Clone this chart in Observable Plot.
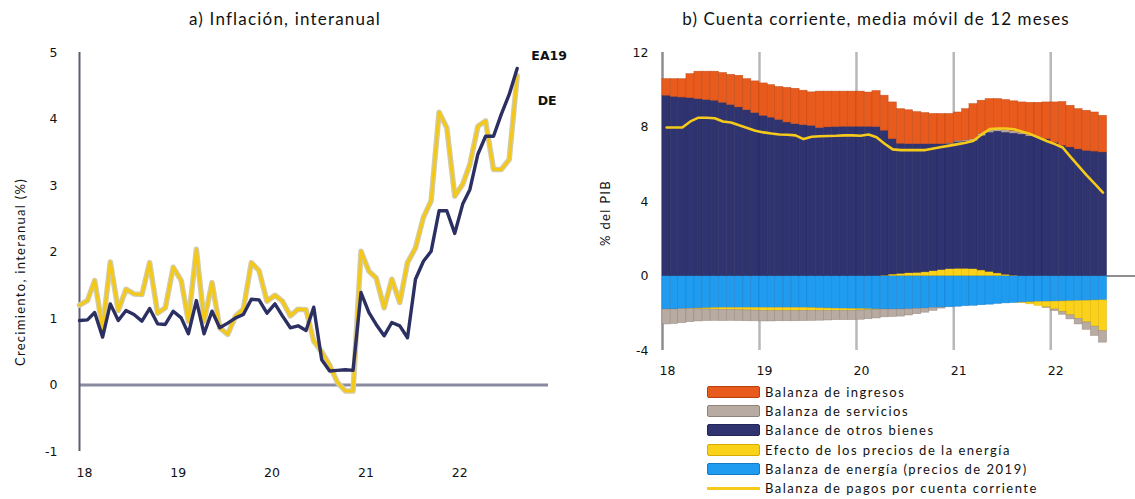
<!DOCTYPE html>
<html><head><meta charset="utf-8">
<script src="https://cdn.jsdelivr.net/npm/d3@7"></script>
<script src="https://cdn.jsdelivr.net/npm/@observablehq/plot@0.6"></script>
<style>
body{margin:0;background:#fff;}
#wrap{position:relative;width:1135px;height:499px;overflow:hidden;font-family:Lato,"Open Sans",sans-serif;color:#111;}
.abs{position:absolute;}
.title{font-size:17px;white-space:nowrap;transform:translateX(-50%);}
.ylab{font-size:13px;white-space:nowrap;transform:translate(-50%,-50%) rotate(-90deg);letter-spacing:1.3px;}
.sw{position:absolute;left:707px;width:53px;height:12px;border-radius:2px;box-sizing:border-box;border:1px solid;}
.lt{position:absolute;left:765px;font-size:13px;line-height:16px;letter-spacing:1.5px;white-space:nowrap;}
#left,#right{position:absolute;top:30px;}
#left{left:0;}
#right{left:590px;}
</style></head><body>
<div id="wrap">
  <div class="abs title" style="left:285px;top:8px;letter-spacing:1.2px;">a) Inflación, interanual</div>
  <div class="abs title" style="left:876px;top:8px;letter-spacing:1.1px;">b) Cuenta corriente, media móvil de 12 meses</div>
  <div class="abs ylab" style="left:20px;top:272px;">Crecimiento, interanual (%)</div>
  <div class="abs ylab" style="left:605px;top:213px;">% del PIB</div>
  <div id="left"></div>
  <div id="right"></div>
  <div id="legend"></div>
</div>
<script>
// ---------- Panel a) data: monthly, Jan 2018 – Sep 2022 ----------
const inflStart = new Date(Date.UTC(2018, 0, 1));
const inflMonths = d3.utcMonths(inflStart, new Date(Date.UTC(2022, 9, 1)));
const ea19 = [0.97,0.98,1.09,0.72,1.22,0.97,1.12,1.06,0.96,1.15,0.92,0.91,
              1.11,1.01,0.77,1.27,0.77,1.11,0.86,0.93,1.01,1.06,1.29,1.28,
              1.08,1.22,1.04,0.86,0.89,0.82,1.17,0.38,0.21,0.22,0.23,0.22,
              1.39,1.09,0.91,0.74,0.94,0.89,0.71,1.59,1.86,2.01,2.62,2.62,
              2.28,2.72,2.94,3.47,3.74,3.74,4.07,4.37,4.76];
const de = [1.20,1.27,1.57,0.85,1.85,1.12,1.44,1.37,1.36,1.84,1.08,1.16,
            1.77,1.57,0.96,2.04,0.96,1.54,0.86,0.76,1.04,1.14,1.84,1.72,
            1.26,1.35,1.26,1.04,1.14,1.13,0.66,0.50,0.30,0.04,-0.09,-0.09,
            2.01,1.71,1.61,1.16,1.59,1.24,1.84,2.06,2.52,2.77,4.10,3.87,
            2.84,3.02,3.32,3.89,3.97,3.24,3.24,3.39,4.65];
const inflYTicks = [-1, 0, 1, 2, 3, 4, 5];
const yearTicks = [2018, 2019, 2020, 2021, 2022];
const yearLabels = ["18", "19", "20", "21", "22"];
const seriesLabelsA = ["EA19", "DE"];

// ---------- Panel b) data: monthly, Jan 2018 – Jul 2022 ----------
const caStart = new Date(Date.UTC(2018, 0, 1));
const caMonths = d3.utcMonths(caStart, new Date(Date.UTC(2022, 7, 1)));
const ingresos = [0.89,0.95,0.99,1.29,1.47,1.52,1.56,1.60,1.62,1.70,1.67,1.70,
                  1.74,1.75,1.77,1.86,1.90,1.85,1.80,1.96,1.92,1.90,1.89,1.89,
                  1.89,1.84,1.93,1.88,1.97,1.86,1.82,1.72,1.67,1.62,1.62,1.58,
                  1.53,1.68,1.89,1.78,1.68,1.61,1.62,1.61,1.62,1.73,1.82,1.97,
                  2.17,2.34,2.24,2.16,2.15,2.10,1.97];
const servicios = [-0.80,-0.78,-0.75,-0.70,-0.65,-0.62,-0.60,-0.60,-0.58,-0.58,-0.58,-0.57,
                   -0.57,-0.56,-0.55,-0.55,-0.55,-0.55,-0.54,-0.53,-0.52,-0.50,-0.50,-0.50,
                   -0.50,-0.48,-0.45,-0.42,-0.40,-0.38,-0.33,-0.28,-0.22,-0.15,-0.05,0.02,
                   0.05,0.06,0.08,0.10,0.12,0.13,0.13,0.12,0.10,0.07,0.03,-0.02,
                   -0.08,-0.14,-0.22,-0.30,-0.40,-0.50,-0.62];
const otrosBienes = [9.68,9.62,9.58,9.55,9.50,9.45,9.41,9.30,9.18,9.05,8.90,8.75,
                     8.60,8.50,8.38,8.24,8.15,8.10,8.06,7.94,7.98,8.00,8.01,8.01,
                     8.01,8.01,8.00,7.78,7.27,6.98,6.93,6.91,6.88,6.82,6.76,6.73,
                     6.81,6.83,6.89,7.23,7.48,7.62,7.63,7.63,7.60,7.50,7.45,7.35,
                     7.15,7.00,6.90,6.80,6.72,6.68,6.63];
const efectoPrecios = [0,0,0,-0.02,-0.04,-0.06,-0.08,-0.10,-0.11,-0.12,-0.13,-0.14,
                       -0.15,-0.16,-0.16,-0.16,-0.16,-0.15,-0.14,-0.13,-0.12,-0.11,-0.10,-0.09,
                       -0.07,-0.05,-0.03,0.02,0.08,0.12,0.15,0.17,0.20,0.26,0.32,0.37,
                       0.39,0.39,0.37,0.30,0.22,0.14,0.07,0.02,-0.03,-0.10,-0.20,-0.30,
                       -0.42,-0.57,-0.75,-0.95,-1.15,-1.40,-1.65];
const energia2019 = [-1.80,-1.80,-1.78,-1.76,-1.75,-1.74,-1.73,-1.72,-1.72,-1.72,-1.72,-1.72,
                     -1.72,-1.72,-1.72,-1.72,-1.72,-1.72,-1.73,-1.74,-1.75,-1.76,-1.77,-1.78,
                     -1.78,-1.79,-1.80,-1.80,-1.80,-1.80,-1.79,-1.77,-1.75,-1.72,-1.70,-1.68,
                     -1.65,-1.62,-1.60,-1.57,-1.54,-1.50,-1.47,-1.45,-1.43,-1.42,-1.40,-1.39,
                     -1.38,-1.37,-1.36,-1.35,-1.34,-1.32,-1.31];
const cuentaCorriente = [7.97,7.97,7.97,8.30,8.50,8.50,8.47,8.30,8.24,8.10,7.95,7.80,
                         7.71,7.65,7.60,7.58,7.55,7.35,7.48,7.50,7.52,7.53,7.55,7.55,
                         7.53,7.60,7.45,7.10,6.80,6.76,6.76,6.76,6.76,6.85,6.93,7.00,
                         7.08,7.15,7.26,7.60,7.89,7.92,7.92,7.88,7.75,7.62,7.44,7.25,
                         7.08,6.90,6.40,5.90,5.40,4.95,4.48];
const caYTicks = [-4, 0, 4, 8, 12];
const seriesNames = ["Balanza de ingresos", "Balanza de servicios", "Balance de otros bienes",
                     "Efecto de los precios de la energía", "Balanza de energía (precios de 2019)"];
const lineName = "Balanza de pagos por cuenta corriente";

// colours
const colA = {ea: "#2c2f62", de: "#f4c916", deEdge: "#d2cbae"};
const fills = {
  "Balanza de energía (precios de 2019)": ["#1f9bf0", "#1679c4"],
  "Efecto de los precios de la energía": ["#fbd21a", "#d9ab00"],
  "Balance de otros bienes": ["#2f3370", "#23265a"],
  "Balanza de servicios": ["#b8aba2", "#8f8279"],
  "Balanza de ingresos": ["#e95b1d", "#b8410f"]
};
const caLine = "#f5ca1a";

// ---------- Panel a) ----------
const utcYear = y => new Date(Date.UTC(y, 0, 1));
const eaData = inflMonths.map((d, i) => ({d, v: ea19[i]}));
const deData = inflMonths.map((d, i) => ({d, v: de[i]}));
const lastA = inflMonths.length - 1;

const left = Plot.plot({
  width: 580, height: 470,
  marginTop: 22, marginBottom: 49, marginLeft: 79, marginRight: 32,
  x: {type: "utc", domain: [utcYear(2018), utcYear(2023)], axis: null},
  y: {domain: [-1, 5], axis: null},
  style: {fontFamily: "DejaVu Sans, sans-serif", fontSize: "12.5px", color: "#111", background: "transparent"},
  marks: [
    Plot.ruleY([0], {stroke: "#8a8aa0", strokeWidth: 3}),
    Plot.ruleX([utcYear(2018)], {stroke: "#5c5c74", strokeWidth: 2}),
    Plot.line(deData, {x: "d", y: "v", stroke: colA.deEdge, strokeWidth: 5.5}),
    Plot.line(deData, {x: "d", y: "v", stroke: colA.de, strokeWidth: 3}),
    Plot.line(eaData, {x: "d", y: "v", stroke: colA.ea, strokeWidth: 3.4}),
    Plot.text(inflYTicks, {y: d => d, text: d => String(d), frameAnchor: "left", dx: -22, textAnchor: "end", fill: "#111"}),
    Plot.text(yearTicks, {x: d => utcYear(d), text: (d, i) => yearLabels[i], frameAnchor: "bottom", dy: 25, dx: 5, fill: "#111"}),
    Plot.text([{d: inflMonths[lastA], v: ea19[lastA]}], {x: "d", y: "v", text: () => seriesLabelsA[0], dx: 32, dy: -12, fontWeight: "bold", fill: "#111"}),
    Plot.text([{d: inflMonths[lastA], v: de[lastA]}], {x: "d", y: "v", text: () => seriesLabelsA[1], dx: 30, dy: 25, fontWeight: "bold", fill: "#111"})
  ]
});
document.getElementById("left").appendChild(left);

// ---------- Panel b) ----------
const stackOrder = ["Balanza de energía (precios de 2019)", "Efecto de los precios de la energía",
                    "Balance de otros bienes", "Balanza de servicios", "Balanza de ingresos"];
const values = {
  "Balanza de ingresos": ingresos,
  "Balanza de servicios": servicios,
  "Balance de otros bienes": otrosBienes,
  "Efecto de los precios de la energía": efectoPrecios,
  "Balanza de energía (precios de 2019)": energia2019
};
const stacked = [];
caMonths.forEach((d, i) => {
  let pos = 0, neg = 0;
  const d1 = d3.utcMonth.offset(d, 1);
  for (const s of stackOrder) {
    const v = values[s][i];
    if (v >= 0) { stacked.push({s, d0: d, d1, y1: pos, y2: pos + v}); pos += v; }
    else { stacked.push({s, d0: d, d1, y1: neg, y2: neg + v}); neg += v; }
  }
});
const caData = caMonths.map((d, i) => ({d: new Date(+d + (d3.utcMonth.offset(d, 1) - d) / 2), v: cuentaCorriente[i]}));

const right = Plot.plot({
  width: 545, height: 360,
  marginTop: 22, marginBottom: 40, marginLeft: 72, marginRight: 0,
  x: {type: "utc", domain: [utcYear(2018), new Date(Date.UTC(2022, 10, 16))], axis: null},
  y: {domain: [-4, 12], axis: null},
  style: {fontFamily: "DejaVu Sans, sans-serif", fontSize: "12.5px", color: "#111", background: "transparent"},
  marks: [
    Plot.ruleX(yearTicks.slice(1).map(utcYear), {stroke: "#b8b8b8", strokeWidth: 2.5}),
    Plot.ruleX([utcYear(2018)], {stroke: "#8e8e8e", strokeWidth: 2.5}),
    Plot.ruleY([0], {stroke: "#8e8e8e", strokeWidth: 2}),
    ...stackOrder.map(s => Plot.rect(stacked.filter(r => r.s === s && r.y1 !== r.y2),
      {x1: "d0", x2: "d1", y1: "y1", y2: "y2", fill: fills[s][0], stroke: fills[s][1], strokeWidth: 0.6, strokeOpacity: 0.7})),
    Plot.line(caData, {x: "d", y: "v", stroke: caLine, strokeWidth: 2.6}),
    Plot.text(caYTicks, {y: d => d, text: d => String(d), frameAnchor: "left", dx: -14, textAnchor: "end", fill: "#111"}),
    Plot.text(yearTicks, {x: d => utcYear(d), text: (d, i) => yearLabels[i], frameAnchor: "bottom", dy: 24, dx: 5, fill: "#111"})
  ]
});
document.getElementById("right").appendChild(right);

// ---------- Legend ----------
const legend = document.getElementById("legend");
const rowTop = 392, rowGap = 19.2;
seriesNames.forEach((s, i) => {
  const c = rowTop + i * rowGap;
  const sw = document.createElement("div");
  sw.className = "sw";
  sw.style.top = (c - 6) + "px";
  sw.style.background = fills[s][0];
  sw.style.borderColor = fills[s][1];
  legend.appendChild(sw);
  const t = document.createElement("div");
  t.className = "lt";
  t.style.top = (c - 8) + "px";
  t.textContent = s;
  legend.appendChild(t);
});
{
  const c = rowTop + seriesNames.length * rowGap;
  const sw = document.createElement("div");
  sw.className = "abs";
  sw.style.cssText = `left:707px;top:${c - 1}px;width:53px;height:3px;background:${caLine};`;
  legend.appendChild(sw);
  const t = document.createElement("div");
  t.className = "lt";
  t.style.top = (c - 8) + "px";
  t.textContent = lineName;
  legend.appendChild(t);
}
</script>
</body></html>
